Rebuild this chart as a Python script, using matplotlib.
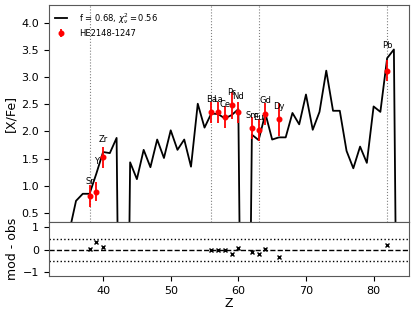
import numpy as np
import matplotlib
matplotlib.use('Agg')
import matplotlib.pyplot as plt

# model abundance pattern, [X/Fe] vs Z (very low values = no stable isotope)
Z_model = np.arange(35, 85)
XFe_model = [0.15, 0.72, 0.85, 0.85, 1.22, 1.62, 1.60, 1.88, -10.0, 1.43,
             1.12, 1.66, 1.34, 1.85, 1.51, 2.02, 1.66, 1.85, 1.35, 2.51,
             2.07, 2.33, 2.32, 2.24, 2.30, 2.41, -10.0, 1.94, 1.84, 2.33,
             1.85, 1.89, 1.89, 2.34, 2.13, 2.68, 2.03, 2.36, 3.12, 2.38,
             2.38, 1.64, 1.32, 1.72, 1.42, 2.46, 2.36, 3.35, 3.51, -10.0]

# observed star
elements = ['Sr', 'Y', 'Zr', 'Ba', 'La', 'Ce', 'Pr', 'Nd', 'Sm', 'Eu', 'Gd', 'Dy', 'Pb']
Z_obs = [38, 39, 40, 56, 57, 58, 59, 60, 62, 63, 64, 66, 82]
XFe_obs = [0.81, 0.89, 1.52, 2.35, 2.35, 2.27, 2.48, 2.35, 2.06, 2.02, 2.32, 2.22, 3.12]
err_obs = [0.2, 0.18, 0.2, 0.2, 0.2, 0.2, 0.25, 0.2, 0.2, 0.2, 0.2, 0.3, 0.2]

# marked elements (vertical dotted lines)
Z_marks = [38, 56, 63, 82]

fit_label = r'f = 0.68, $\chi^2_\nu = 0.56$'
star_name = 'HE2148-1247'

Z_model = np.array(Z_model)
XFe_model = np.array(XFe_model)
Z_obs = np.array(Z_obs)
XFe_obs = np.array(XFe_obs)
mod_at_obs = XFe_model[Z_obs - Z_model[0]]
resid = mod_at_obs - XFe_obs

fig = plt.figure(figsize=(4.15, 3.17), dpi=100)
ax1 = fig.add_axes([0.118, 0.2997, 0.867, 0.6845])
ax2 = fig.add_axes([0.118, 0.1293, 0.867, 0.1704], sharex=ax1)

for z in Z_marks:
    ax1.axvline(z, color='gray', ls=':', lw=0.8)

ax1.plot(Z_model, XFe_model, color='k', lw=1.3, label=fit_label)
ax1.errorbar(Z_obs, XFe_obs, yerr=err_obs, fmt='o', color='r', ms=3.3,
             elinewidth=1.3, capsize=0, label=star_name)

for el, z, y in zip(elements, Z_obs, np.maximum(XFe_obs, mod_at_obs)):
    ax1.text(z, y + 0.15, el, ha='center', va='bottom', fontsize=6)

ax1.set_xlim(32, 85.2)
ax1.set_ylim(0.33, 4.33)
ax1.set_ylabel('[X/Fe]', fontsize=9, labelpad=3)
ax1.tick_params(axis='y', labelsize=8)
ax1.tick_params(axis='x', bottom=False, labelbottom=False)
ax1.legend(loc='upper left', frameon=False, fontsize=6, handlelength=1.5,
           handletextpad=1.4, borderaxespad=0.3, labelspacing=0.4)

ax2.plot(Z_obs, resid, 'x', color='k', ms=2.5, mew=1.0)
ax2.axhline(0, color='k', ls='--', lw=1)
ax2.axhline(0.5, color='k', ls=':', lw=1)
ax2.axhline(-0.5, color='k', ls=':', lw=1)
ax2.set_ylim(-1.18, 1.24)
ax2.set_yticks([-1, 0, 1])
ax2.set_xticks([40, 50, 60, 70, 80])
ax2.set_ylabel('mod - obs', fontsize=9, labelpad=3)
ax2.set_xlabel('Z', fontsize=9, labelpad=1)
ax2.tick_params(labelsize=8)

for ax in (ax1, ax2):
    for s in ax.spines.values():
        s.set_color('0.35')

fig.savefig('out.png', dpi=100)
